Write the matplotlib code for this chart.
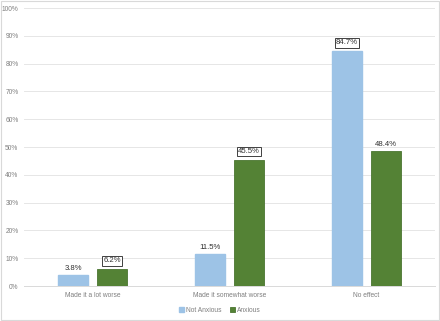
import numpy as np
import matplotlib.pyplot as plt
from matplotlib.patches import Rectangle

plt.rcParams['font.family'] = ['Liberation Sans', 'DejaVu Sans']

categories = ['Made it a lot worse', 'Made it somewhat worse', 'No effect']
not_anxious = [3.8, 11.5, 84.7]
anxious = [6.2, 45.5, 48.4]
# which labels carry a box in the original
boxed_not = [False, False, True]
boxed_anx = [True, True, False]

fig = plt.figure(figsize=(4.4, 3.21), dpi=100)
fig.patches.append(Rectangle((0.002, 0.003), 0.995, 0.993, transform=fig.transFigure,
                             fill=False, edgecolor='#d9d9d9', linewidth=0.8))
ax = fig.add_axes([0.0545, 0.109, 0.934, 0.866])

X = np.arange(len(categories))
w = 0.22
off = 0.142
b1 = ax.bar(X - off, not_anxious, w, color='#9dc3e6', edgecolor='#9dc3e6', label='Not Anxious', zorder=3)
b2 = ax.bar(X + off, anxious, w, color='#548235', edgecolor='#4a7530', linewidth=0.6, label='Anxious', zorder=3)

def label(x, y, box):
    kw = dict(ha='center', va='bottom', fontsize=5.6, color='#303030', zorder=4)
    if box:
        kw['bbox'] = dict(boxstyle='square,pad=0.18', facecolor='white', edgecolor='#404040', linewidth=0.7)
        ax.text(x, y + 1.6, '%.1f%%' % y, **kw)
    else:
        ax.text(x, y + 1.2, '%.1f%%' % y, **kw)

for x, y, bx in zip(X - off, not_anxious, boxed_not):
    label(x, y, bx)
for x, y, bx in zip(X + off, anxious, boxed_anx):
    label(x, y, bx)

ax.set_xlim(-0.5, 2.5)
ax.set_ylim(0, 100)
ax.set_yticks(np.arange(0, 101, 10))
ax.set_yticklabels(['%d%%' % v for v in range(0, 101, 10)])
ax.set_xticks(X)
ax.set_xticklabels(categories)
ax.tick_params(axis='both', length=0, labelsize=4.8, labelcolor='#7f7f7f')
ax.tick_params(axis='y', pad=4)
ax.tick_params(axis='x', pad=4.5)
ax.yaxis.grid(True, color='#e6e6e6', linewidth=0.7, zorder=0)
for s in ['top', 'right', 'left']:
    ax.spines[s].set_visible(False)
ax.spines['bottom'].set_color('#d9d9d9')
ax.spines['bottom'].set_linewidth(0.7)

leg = fig.legend(handles=[b1, b2], loc='center', bbox_to_anchor=(0.5, 0.033), ncol=2,
                 frameon=False, fontsize=4.8, handlelength=0.7, handleheight=0.7,
                 handletextpad=0.4, columnspacing=1.2)
for t in leg.get_texts():
    t.set_color('#7f7f7f')

fig.savefig('out.png', dpi=100)
